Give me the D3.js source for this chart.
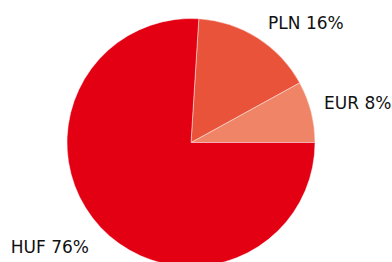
<!DOCTYPE html>
<html>
<head>
<meta charset="utf-8">
<script src="https://cdn.jsdelivr.net/npm/d3@7"></script>
<style>
	html, body { margin: 0; padding: 0; background: #fff; overflow: hidden; }
	svg { display: block; }
	.lbl { font-family: "DejaVu Sans", sans-serif; font-size: 17px; fill: #111; }
</style>
</head>
<body>
<div id="chart"></div>
<script>
'use strict';
(function() {
	//Data (counter-clockwise from 3 o'clock)
	var currencies = ['EUR', 'PLN', 'HUF'];
	var shares = [8, 16, 76];
	var colors = ['#f08466', '#e8533a', '#e30013'];

	var width = 392, height = 262;
	var cx = 191, cy = 142.5, radius = 124, labelRadius = 142;

	//small label nudges so the text boxes sit like the original layout
	var nudge = { EUR: [-4.5, -4], PLN: [1, 0.5], HUF: [1.5, 7] };

	var svg = d3.select('#chart').append('svg')
		.attr('width', width)
		.attr('height', height);

	var g = svg.append('g')
		.attr('transform', 'translate(' + cx + ',' + cy + ')');

	//pie runs counter-clockwise starting at 3 o'clock
	var pie = d3.pie()
		.sort(null)
		.value(function(d) { return d; })
		.startAngle(Math.PI / 2)
		.endAngle(Math.PI / 2 - 2 * Math.PI);

	var arc = d3.arc().innerRadius(0).outerRadius(radius);
	var labelArc = d3.arc().innerRadius(labelRadius).outerRadius(labelRadius);

	var arcs = pie(shares);

	g.selectAll('path.slice')
		.data(arcs)
		.enter().append('path')
			.classed('slice', true)
			.attr('d', arc)
			.attr('fill', function(d, i) { return colors[i]; })
			.attr('stroke', 'rgba(255,255,255,0.45)')
			.attr('stroke-width', 1)
			.attr('stroke-linejoin', 'round');

	g.selectAll('text.lbl')
		.data(arcs)
		.enter().append('text')
			.classed('lbl', true)
			.attr('transform', function(d, i) {
				var c = labelArc.centroid(d);
				var n = nudge[currencies[i]] || [0, 0];
				return 'translate(' + (c[0] + n[0]) + ',' + (c[1] + n[1]) + ')';
			})
			.attr('dy', '0.35em')
			.attr('text-anchor', function(d) {
				var mid = (d.startAngle + d.endAngle) / 2;
				return Math.sin(mid) >= 0 ? 'start' : 'end';
			})
			.text(function(d, i) { return currencies[i] + ' ' + shares[i] + '%'; });
})();
</script>
</body>
</html>
